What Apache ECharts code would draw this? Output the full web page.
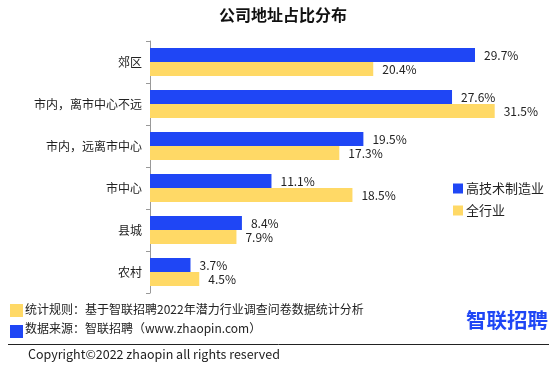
<!DOCTYPE html>
<html><head><meta charset="utf-8">
<script src="https://cdn.jsdelivr.net/npm/echarts@6/dist/echarts.min.js"></script>
<style>html,body{margin:0;padding:0;background:#fff}#c{width:554px;height:366px}</style>
</head><body><div id="c"></div>
<script>
const categories = ['郊区', '市内，离市中心不远', '市内，远离市中心', '市中心', '县城', '农村'];
const seriesNames = ['高技术制造业', '全行业'];
const highTech = [29.7, 27.6, 19.5, 11.1, 8.4, 3.7];
const allIndustry = [20.4, 31.5, 17.3, 18.5, 7.9, 4.5];
const titleText = '公司地址占比分布';
const noteRule = '统计规则：基于智联招聘2022年潜力行业调查问卷数据统计分析';
const noteSource = '数据来源：智联招聘（www.zhaopin.com）';
const copyright = 'Copyright©2022 zhaopin all rights reserved';

const FONT = '"Noto Sans CJK SC", "Noto Sans", sans-serif';
const BLUE = '#1F46F5';
const YELLOW = '#FFD966';
const chart = echarts.init(document.getElementById('c'));
const lbl = {show: true, position: 'right', distance: 9, formatter: p => p.value.toFixed(1) + '%', color: '#222', fontSize: 12, fontFamily: FONT};
chart.setOption({
  animation: false,
  textStyle: {fontFamily: FONT},
  title: {text: titleText, left: 278, textAlign: 'center', top: 2, textStyle: {fontSize: 16, fontWeight: 'bold', color: '#111', fontFamily: FONT}},
  legend: {orient: 'vertical', left: 448, top: 177, itemWidth: 10, itemHeight: 10, itemGap: 9, icon: 'rect',
    textStyle: {fontSize: 13, color: '#222', fontFamily: FONT, padding: [0,0,0,-2]}, data: seriesNames},
  grid: {left: 150, top: 41, width: 383, height: 252},
  xAxis: {type: 'value', min: 0, max: 35, show: false},
  yAxis: {type: 'category', data: categories, inverse: true,
    axisLine: {show: true, lineStyle: {color: '#999'}},
    axisTick: {show: true, inside: false, length: 4, lineStyle: {color: '#999'}},
    axisLabel: {color: '#222', fontSize: 12, margin: 8, fontFamily: FONT}},
  series: [
    {name: seriesNames[0], type: 'bar', data: highTech, barCategoryGap: '33%', barGap: '0%', itemStyle: {color: BLUE}, label: lbl},
    {name: seriesNames[1], type: 'bar', data: allIndustry, barCategoryGap: '33%', barGap: '0%', itemStyle: {color: YELLOW}, label: lbl}
  ],
  graphic: [
    {type: 'rect', shape: {x: 10, y: 304, width: 13, height: 13}, style: {fill: YELLOW}},
    {type: 'text', x: 25, y: 309, style: {text: noteRule, font: '12px ' + FONT, fill: '#222', verticalAlign: 'middle'}},
    {type: 'rect', shape: {x: 10, y: 325, width: 13, height: 13}, style: {fill: BLUE}},
    {type: 'text', x: 25, y: 328, style: {text: noteSource, font: '12px ' + FONT, fill: '#222', verticalAlign: 'middle'}},
    {type: 'line', shape: {x1: 8, y1: 344.5, x2: 549, y2: 344.5}, style: {stroke: '#222', lineWidth: 1}},
    {type: 'text', x: 28, y: 354, style: {text: copyright, font: '12.5px ' + FONT, fill: '#222', verticalAlign: 'middle'}},
    {type: 'text', x: 466, y: 320, style: {text: '智联招聘', font: 'bold 20.5px ' + FONT, fill: '#1F46F5', verticalAlign: 'middle'}}
  ]
});
</script></body></html>
